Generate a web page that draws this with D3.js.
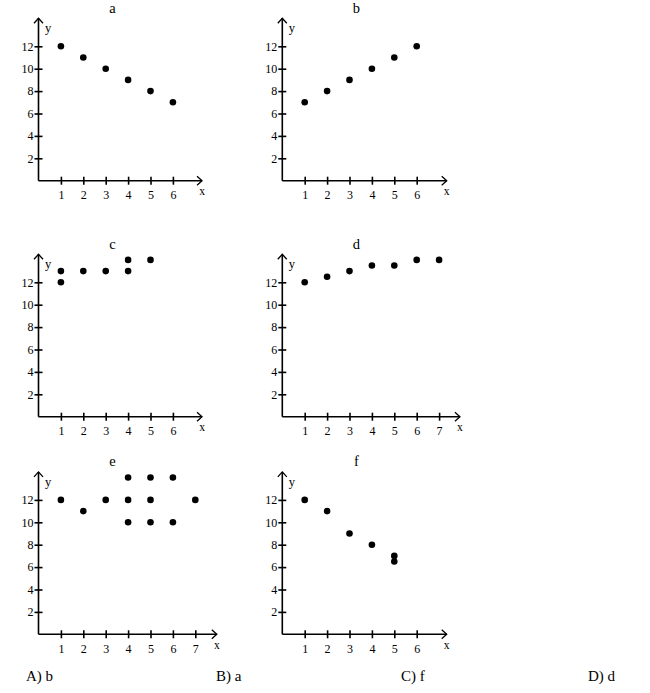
<!DOCTYPE html>
<html>
<head>
<meta charset="utf-8">
<script src="https://cdn.jsdelivr.net/npm/d3@7"></script>
<style>
  html, body { margin: 0; padding: 0; background: #fff; }
  svg { display: block; font-family: "Liberation Serif", "DejaVu Serif", serif; }
  svg text { font-family: "Liberation Serif", "DejaVu Serif", serif; }
</style>
</head>
<body>
<svg id="chart" width="650" height="693"></svg>
<script>
// ---- data ----
const panelTitles = ["a", "b", "c", "d", "e", "f"];
const yTickValues = [2, 4, 6, 8, 10, 12];
const xTicksA = [1, 2, 3, 4, 5, 6];
const xTicksB = [1, 2, 3, 4, 5, 6];
const xTicksC = [1, 2, 3, 4, 5, 6];
const xTicksD = [1, 2, 3, 4, 5, 6, 7];
const xTicksE = [1, 2, 3, 4, 5, 6, 7];
const xTicksF = [1, 2, 3, 4, 5, 6];

const pointsA = [[1, 12], [2, 11], [3, 10], [4, 9], [5, 8], [6, 7]];
const pointsB = [[1, 7], [2, 8], [3, 9], [4, 10], [5, 11], [6, 12]];
const pointsC = [[1, 13], [1, 12], [2, 13], [3, 13], [4, 14], [4, 13], [5, 14]];
const pointsD = [[1, 12], [2, 12.5], [3, 13], [4, 13.5], [5, 13.5], [6, 14], [7, 14]];
const pointsE = [[1, 12], [2, 11], [3, 12], [4, 14], [4, 12], [4, 10], [5, 14], [5, 12], [5, 10], [6, 14], [6, 10], [7, 12]];
const pointsF = [[1, 12], [2, 11], [3, 9], [4, 8], [5, 7], [5, 6.5]];

const answerLabels = ["A) b", "B) a", "C) f", "D) d"];

// ---- layout ----
const UX = 22.4, UY = 11.2, Y_END = 14.5;
const panels = [
  { title: panelTitles[0], ox: 38.5,  oy: 180.7, xEnd: 7.3,  ticks: xTicksA, pts: pointsA },
  { title: panelTitles[1], ox: 282.3, oy: 180.7, xEnd: 7.34, ticks: xTicksB, pts: pointsB },
  { title: panelTitles[2], ox: 38.5,  oy: 416.7, xEnd: 7.3,  ticks: xTicksC, pts: pointsC },
  { title: panelTitles[3], ox: 282.3, oy: 416.7, xEnd: 7.93, ticks: xTicksD, pts: pointsD },
  { title: panelTitles[4], ox: 38.5,  oy: 634.3, xEnd: 7.96, ticks: xTicksE, pts: pointsE },
  { title: panelTitles[5], ox: 282.3, oy: 634.3, xEnd: 7.34, ticks: xTicksF, pts: pointsF }
];
const answerX = [26, 216, 401, 588];

const svg = d3.select("#chart");
const SW = 1.6;
const FONT = '"Liberation Serif", "DejaVu Serif", serif';

panels.forEach(p => {
  const x = d3.scaleLinear().domain([0, p.xEnd]).range([p.ox, p.ox + p.xEnd * UX]);
  const y = d3.scaleLinear().domain([0, Y_END]).range([p.oy, p.oy - Y_END * UY]);
  const g = svg.append("g");

  // x axis
  const gx = g.append("g").attr("transform", `translate(0,${p.oy})`)
    .call(d3.axisBottom(x).tickValues(p.ticks).tickSize(4).tickPadding(6).tickFormat(d3.format("d")));
  gx.attr("font-family", FONT);
  gx.select(".domain").remove();
  gx.selectAll(".tick line").attr("y1", -4).attr("y2", 4).attr("stroke", "#000").attr("stroke-width", SW);
  gx.selectAll(".tick text").attr("font-size", 12).attr("fill", "#000");

  // y axis
  const gy = g.append("g").attr("transform", `translate(${p.ox},0)`)
    .call(d3.axisLeft(y).tickValues(yTickValues).tickSize(4).tickPadding(1).tickFormat(d3.format("d")));
  gy.attr("font-family", FONT);
  gy.select(".domain").remove();
  gy.selectAll(".tick line").attr("x1", -4).attr("x2", 4).attr("stroke", "#000").attr("stroke-width", SW);
  gy.selectAll(".tick text").attr("font-size", 12).attr("fill", "#000");

  // axis lines with open arrowheads
  const x0 = x(0), y0 = y(0), xe = x(p.xEnd), ye = y(Y_END);
  g.append("path")
    .attr("d", `M${x0},${y0}H${xe}M${x0},${y0}V${ye}`)
    .attr("fill", "none").attr("stroke", "#000").attr("stroke-width", SW);
  g.append("path")
    .attr("d", `M${xe - 5},${y0 - 4.5}L${xe},${y0}L${xe - 5},${y0 + 4.5}M${x0 - 4.5},${ye + 5}L${x0},${ye}L${x0 + 4.5},${ye + 5}`)
    .attr("fill", "none").attr("stroke", "#000").attr("stroke-width", 1.3);

  // axis labels
  g.append("text").attr("x", xe).attr("y", y0 + 14.5).attr("text-anchor", "middle")
    .attr("font-size", 11.5).text("x");
  g.append("text").attr("x", x0 + 9.5).attr("y", ye + 14).attr("text-anchor", "middle")
    .attr("font-size", 12.5).text("y");

  // title
  g.append("text").attr("x", p.ox + 74).attr("y", p.oy - 168).attr("text-anchor", "middle")
    .attr("font-size", 14.5).text(p.title);

  // points
  g.selectAll("circle").data(p.pts).join("circle")
    .attr("cx", d => x(d[0])).attr("cy", d => y(d[1])).attr("r", 3.3).attr("fill", "#000");
});

svg.selectAll("text.answer").data(answerLabels).join("text")
  .attr("class", "answer")
  .attr("x", (d, i) => answerX[i]).attr("y", 681)
  .attr("font-size", 15).text(d => d);
</script>
</body>
</html>
